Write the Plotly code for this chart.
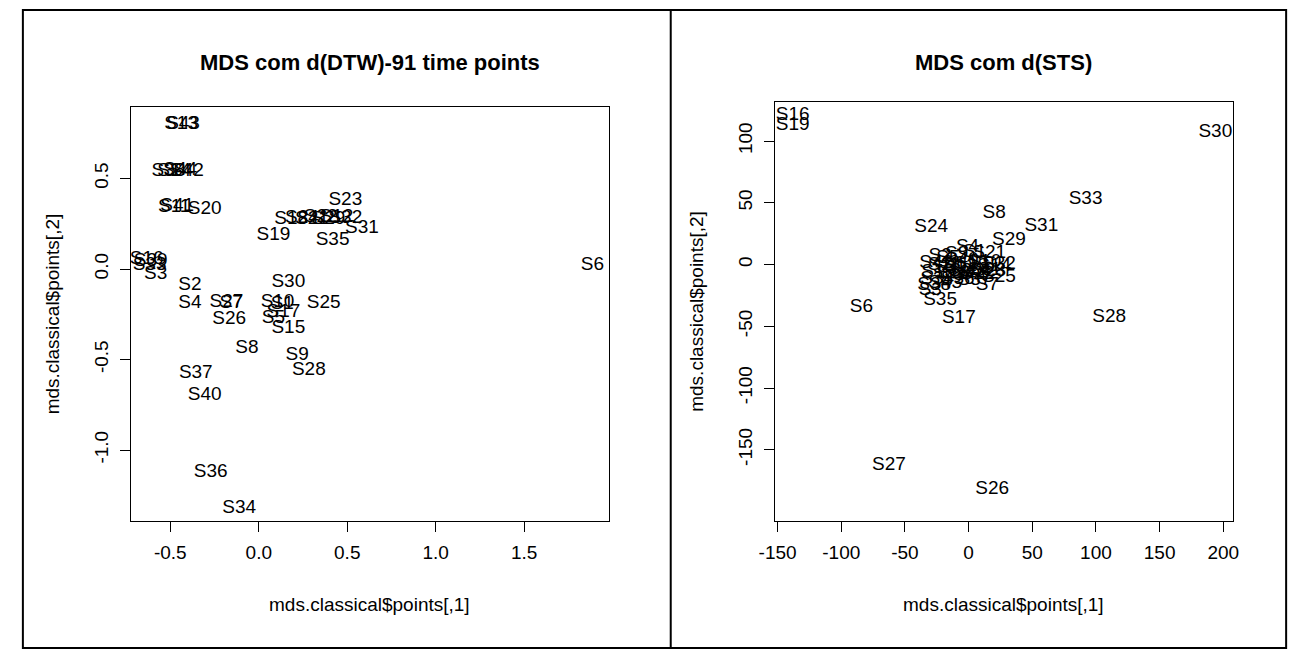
import plotly.graph_objects as go

# ---------------- data ----------------
left_labels = ["S13", "S43", "S38", "S14", "S44", "S42", "S11", "S41", "S20", "S23",
               "S19", "S18", "S24", "S21", "S22", "S29", "S12", "S32", "S31", "S35",
               "S16", "S39", "S33", "S3", "S2", "S4", "S27", "S7", "S26", "S30",
               "S10", "S1", "S17", "S5", "S15", "S25", "S8", "S9", "S28", "S37",
               "S40", "S36", "S34", "S6"]
left_x = [-0.439, -0.428, -0.511, -0.478, -0.444, -0.406, -0.478, -0.461, -0.306, 0.489,
          0.083, 0.183, 0.244, 0.300, 0.350, 0.394, 0.439, 0.489, 0.583, 0.417,
          -0.633, -0.611, -0.617, -0.583, -0.389, -0.389, -0.183, -0.156, -0.167, 0.167,
          0.106, 0.133, 0.139, 0.083, 0.167, 0.367, -0.067, 0.217, 0.283, -0.356,
          -0.306, -0.272, -0.111, 1.885]
left_y = [0.801, 0.801, 0.541, 0.541, 0.547, 0.541, 0.343, 0.348, 0.331, 0.381,
          0.188, 0.276, 0.282, 0.276, 0.287, 0.276, 0.287, 0.282, 0.227, 0.160,
          0.055, 0.044, 0.022, -0.028, -0.088, -0.188, -0.182, -0.188, -0.276, -0.072,
          -0.182, -0.193, -0.238, -0.271, -0.326, -0.188, -0.436, -0.475, -0.558, -0.575,
          -0.696, -1.122, -1.320, 0.022]

right_labels = ["S16", "S19", "S30", "S33", "S8", "S24", "S31", "S29", "S4", "S21",
                "S25", "S7", "S35", "S17", "S6", "S27", "S26", "S28",
                "S1", "S2", "S3", "S5", "S9", "S10", "S11", "S12", "S13", "S14",
                "S15", "S18", "S20", "S22", "S23", "S32", "S34", "S36", "S37", "S38",
                "S39", "S40", "S41", "S42", "S43", "S44"]
right_x = [-138.2, -138.2, 193.8, 91.9, 20.1, -29.3, 57.1, 31.7, -0.8, 16.2,
           23.9, 14.7, -22.4, -7.7, -84.2, -62.5, 18.5, 110.4,
           4.6, -22.4, -30.1, -16.2, -9.3, 12.4, -19.3, -6.9, 2.3, 20.1,
           -23.9, -12.4, -2.3, 6.9, 16.2, 23.9, -24.7, -8.5, 4.6, -27.0,
           -14.7, -5.4, 12.4, -25.5, -18.5, 0.8]
right_y = [121.1, 113.0, 107.3, 53.0, 41.7, 30.4, 31.2, 19.8, 14.2, 9.3,
           -10.1, -16.6, -28.7, -43.3, -34.4, -162.3, -182.0, -42.5,
           10.1, 6.9, -20.6, 5.3, 8.5, 2.0, -0.4, -1.2, 0.4, -1.2,
           -6.1, -6.9, -5.3, -7.7, -5.3, 0.4, -11.7, -11.7, -12.6, -16.6,
           -2.8, 3.6, -4.5, 1.2, -15.0, -8.5]

left_xticks = [-0.5, 0.0, 0.5, 1.0, 1.5]
left_xticklabels = ["-0.5", "0.0", "0.5", "1.0", "1.5"]
left_yticks = [-1.0, -0.5, 0.0, 0.5]
left_yticklabels = ["-1.0", "-0.5", "0.0", "0.5"]
right_xticks = [-150, -100, -50, 0, 50, 100, 150, 200]
right_xticklabels = ["-150", "-100", "-50", "0", "50", "100", "150", "200"]
right_yticks = [-150, -100, -50, 0, 50, 100]
right_yticklabels = ["-150", "-100", "-50", "0", "50", "100"]

left_title = "MDS com d(DTW)-91 time points"
right_title = "MDS com d(STS)"
x_title = "mds.classical$points[,1]"
y_title = "mds.classical$points[,2]"

# ---------------- layout geometry (pixels) ----------------
W, H = 1300, 653
FONT = "Liberation Sans, Arial, Helvetica, sans-serif"
LBL = 19

def px(x):
    return x / W

def py(y):
    return 1 - y / H

L_box = (117, 603, 107, 521)
R_box = (772, 1238, 102, 521)

fig = go.Figure()
fig.add_trace(go.Scatter(x=left_x, y=left_y, text=left_labels, mode="text",
                         textposition="middle center",
                         textfont=dict(family=FONT, size=LBL, color="#000"),
                         xaxis="x", yaxis="y", hoverinfo="text", showlegend=False))
fig.add_trace(go.Scatter(x=right_x, y=right_y, text=right_labels, mode="text",
                         textposition="middle center",
                         textfont=dict(family=FONT, size=LBL, color="#000"),
                         xaxis="x2", yaxis="y2", hoverinfo="text", showlegend=False))

def axis(domain, rng, tickvals, ticktext, anchor, angle=0):
    return dict(domain=domain, range=rng, tickvals=tickvals, ticktext=ticktext,
                anchor=anchor, showgrid=False, zeroline=False,
                showline=True, linecolor="#000", linewidth=1, mirror=True,
                ticks="outside", ticklen=10, tickcolor="#000", tickwidth=1,
                tickangle=angle, ticklabelstandoff=4,
                tickfont=dict(family=FONT, size=LBL, color="#000"))

fig.update_layout(
    width=W, height=H, margin=dict(l=0, r=0, t=0, b=0),
    paper_bgcolor="white", plot_bgcolor="white", showlegend=False,
    xaxis=axis([px(L_box[0]), px(L_box[1])], [-0.722, 1.978],
               left_xticks, left_xticklabels, "y"),
    yaxis=axis([py(L_box[3]), py(L_box[2])], [-1.392, 0.895],
               left_yticks, left_yticklabels, "x", -90),
    xaxis2=axis([px(R_box[0]), px(R_box[1])], [-152.1, 207.7],
                right_xticks, right_xticklabels, "y2"),
    yaxis2=axis([py(R_box[3]), py(R_box[2])], [-207.7, 131.6],
                right_yticks, right_yticklabels, "x2", -90),
)

annos = []
for box, title in ((L_box, left_title), (R_box, right_title)):
    cx = (box[0] + box[1]) / 2
    annos.append(dict(text="<b>" + title + "</b>", x=px(cx), y=py(62),
                      xref="paper", yref="paper", showarrow=False,
                      xanchor="center", yanchor="middle",
                      font=dict(family=FONT, size=22, color="#000")))
    annos.append(dict(text=x_title, x=px(cx), y=py(604),
                      xref="paper", yref="paper", showarrow=False,
                      xanchor="center", yanchor="middle",
                      font=dict(family=FONT, size=LBL, color="#000")))
    annos.append(dict(text=y_title, x=px(box[0] - 80), y=py((box[2] + box[3]) / 2),
                      xref="paper", yref="paper", showarrow=False, textangle=-90,
                      xanchor="center", yanchor="middle",
                      font=dict(family=FONT, size=LBL, color="#000")))
fig.update_layout(annotations=annos)

# outer table frame and divider
fig.add_shape(type="rect", xref="paper", yref="paper",
              x0=px(7), x1=px(1292), y0=py(648), y1=py(10),
              line=dict(color="#000", width=2))
fig.add_shape(type="line", xref="paper", yref="paper",
              x0=px(666), x1=px(666), y0=py(648), y1=py(10),
              line=dict(color="#000", width=2))

fig.write_html("out.html")
